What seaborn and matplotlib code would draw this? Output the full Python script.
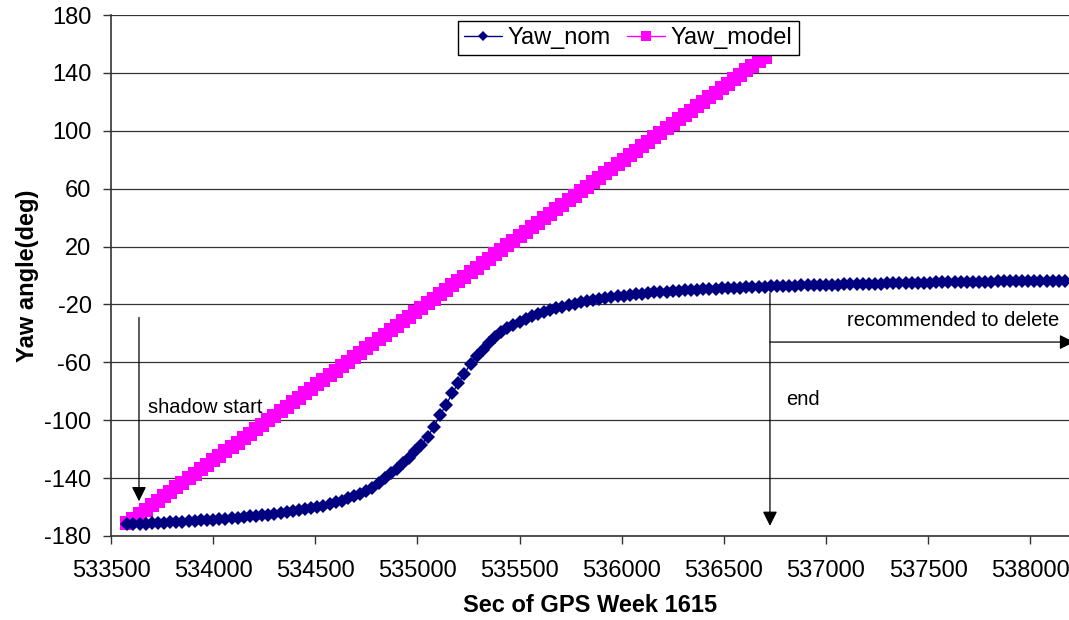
import numpy as np
import pandas as pd
import matplotlib
matplotlib.use("Agg")
import matplotlib.pyplot as plt
import seaborn as sns

# ---------------------------------------------------------------------------
# Data (30 s sampling)
# ---------------------------------------------------------------------------
T0 = 533580          # first epoch, sec of GPS week
STEP = 30            # sampling interval, s

yaw_nom = [
    -172.0, -171.8, -171.6, -171.4, -171.2, -171.0, -170.8, -170.5, -170.3, -170.1,
    -169.8, -169.5, -169.2, -168.9, -168.6, -168.3, -168.0, -167.6, -167.3, -166.9,
    -166.5, -166.1, -165.7, -165.2, -164.7, -164.2, -163.6, -163.0, -162.3, -161.6,
    -160.8, -160.0, -159.0, -158.0, -156.8, -155.5, -154.0, -152.5, -151.0, -149.2,
    -146.6, -143.6, -140.2, -136.8, -133.5, -129.8, -125.8, -121.5, -116.8, -111.5,
    -104.5, -96.5, -89.5, -81.5, -74.3, -67.8, -61.0, -55.8, -51.4, -46.5,
    -42.2, -38.8, -36.2, -34.0, -31.9, -29.8, -28.0, -26.4, -25.0, -23.7,
    -22.6, -21.5, -20.5, -19.5, -18.6, -17.8, -17.0, -16.3, -15.6, -15.0,
    -14.4, -13.9, -13.4, -12.9, -12.5, -12.1, -11.7, -11.4, -11.1, -10.8,
    -10.5, -10.2, -10.0, -9.7, -9.5, -9.3, -9.1, -8.9, -8.7, -8.5,
    -8.3, -8.2, -8.0, -7.9, -7.7, -7.6, -7.4, -7.3, -7.2, -7.0,
    -6.9, -6.8, -6.7, -6.6, -6.5, -6.4, -6.3, -6.2, -6.1, -6.0,
    -5.9, -5.8, -5.7, -5.6, -5.5, -5.4, -5.3, -5.2, -5.2, -5.1,
    -5.0, -4.9, -4.8, -4.8, -4.7, -4.6, -4.5, -4.5, -4.4, -4.3,
    -4.3, -4.2, -4.1, -4.1, -4.0, -3.9, -3.9, -3.8, -3.7, -3.7,
    -3.6, -3.6, -3.5, -3.5,
]

yaw_model = [
    -171.2, -168.1, -165.0, -161.9, -158.8, -155.7, -152.6, -149.5, -146.4, -143.3,
    -140.2, -137.1, -134.0, -130.9, -127.8, -124.7, -121.6, -118.5, -115.4, -112.3,
    -109.2, -106.1, -103.0, -99.9, -96.8, -93.7, -90.6, -87.5, -84.4, -81.3,
    -78.2, -75.1, -72.0, -68.9, -65.8, -62.7, -59.6, -56.5, -53.4, -50.3,
    -47.2, -44.1, -41.0, -37.9, -34.8, -31.7, -28.6, -25.5, -22.4, -19.3,
    -16.2, -13.1, -10.0, -6.9, -3.8, -0.7, 2.4, 5.5, 8.6, 11.7,
    14.8, 17.9, 21.0, 24.1, 27.2, 30.3, 33.4, 36.5, 39.6, 42.7,
    45.8, 48.9, 52.0, 55.1, 58.2, 61.3, 64.4, 67.5, 70.6, 73.7,
    76.8, 79.9, 83.0, 86.1, 89.2, 92.3, 95.4, 98.5, 101.6, 104.7,
    107.8, 110.9, 114.0, 117.1, 120.2, 123.3, 126.4, 129.5, 132.6, 135.7,
    138.8, 141.9, 145.0, 148.1, 151.2,
]

y_ticks = [-180, -140, -100, -60, -20, 20, 60, 100, 140, 180]
x_ticks = [533500, 534000, 534500, 535000, 535500, 536000, 536500, 537000, 537500, 538000]

# annotation anchors (data coords)
shadow_start = (533637, -29, -156)      # x, y_top, y_tip
end_mark = (536726, -12, -173)
delete_arrow = (536726, 538215, -46)    # x_from, x_to, y

# ---------------------------------------------------------------------------
# Styling
# ---------------------------------------------------------------------------
sns.set_style("white")
plt.rcParams["font.family"] = ["Liberation Sans", "DejaVu Sans"]
plt.rcParams["axes.unicode_minus"] = False
plt.rcParams["text.color"] = "black"
plt.rcParams["axes.labelcolor"] = "black"
plt.rcParams["xtick.color"] = "black"
plt.rcParams["ytick.color"] = "black"

t_nom = T0 + STEP * np.arange(len(yaw_nom))
t_model = T0 + STEP * np.arange(len(yaw_model))
df_nom = pd.DataFrame({"t": t_nom, "yaw": yaw_nom})
df_model = pd.DataFrame({"t": t_model, "yaw": yaw_model})

fig = plt.figure(figsize=(10.69, 6.2), dpi=100)
ax = fig.add_axes([111 / 1069, 84 / 620, 958 / 1069, 521 / 620])

sns.lineplot(data=df_nom, x="t", y="yaw", ax=ax, color="#000080", marker="D",
             markersize=7.2, markeredgewidth=0, linewidth=1, label="Yaw_nom",
             zorder=3)
sns.lineplot(data=df_model, x="t", y="yaw", ax=ax, color="#FF00FF", marker="s",
             markersize=9.5, markeredgewidth=0, linewidth=1, label="Yaw_model",
             zorder=2)

ax.set_xlim(533500, 538190)
ax.set_ylim(-180, 180)
ax.set_yticks(y_ticks)
ax.set_xticks(x_ticks)
ax.set_xticklabels([str(v) for v in x_ticks])
ax.tick_params(axis="both", labelsize=17, length=6, width=1, color="#333333",
               labelcolor="black", direction="out", left=True, bottom=True)
ax.tick_params(axis="x", pad=11)
ax.tick_params(axis="y", pad=8)
ax.grid(axis="y", color="#333333", linewidth=0.9)
ax.grid(axis="x", visible=False)

for side in ["top", "right"]:
    ax.spines[side].set_visible(False)
for side in ["left", "bottom"]:
    ax.spines[side].set_color("#333333")
    ax.spines[side].set_linewidth(1.2)

ax.set_xlabel("Sec of GPS Week 1615", fontsize=17, fontweight="bold", labelpad=9)
ax.set_ylabel("Yaw angle(deg)", fontsize=17, fontweight="bold", labelpad=4)

leg = ax.legend(loc="upper center", bbox_to_anchor=(0.54, 0.988), ncol=2,
                fontsize=17, frameon=True, fancybox=False, framealpha=1,
                edgecolor="black", borderpad=0.25, handlelength=1.6,
                handletextpad=0.25, columnspacing=0.7, borderaxespad=0,
                markerscale=0.75)
leg.get_frame().set_linewidth(1)
leg.set_zorder(5)

# annotations
arrow_kw = dict(arrowstyle="-|>", color="black", lw=0.9, mutation_scale=22,
                shrinkA=0, shrinkB=0)
x, y0, y1 = shadow_start
ax.annotate("", xy=(x, y1), xytext=(x, y0), arrowprops=arrow_kw)
ax.text(533683, -91, "shadow start", fontsize=14.5, va="center", ha="left")

x, y0, y1 = end_mark
ax.annotate("", xy=(x, y1), xytext=(x, y0), arrowprops=arrow_kw)
ax.text(536806, -86, "end", fontsize=14.5, va="center", ha="left")

x0, x1, y = delete_arrow
ax.annotate("", xy=(x1, y), xytext=(x0, y), arrowprops=arrow_kw,
            annotation_clip=False)
ax.text(538143, -31, "recommended to delete", fontsize=14.5, va="center", ha="right")

fig.savefig("out.png", dpi=100)
plt.close(fig)
